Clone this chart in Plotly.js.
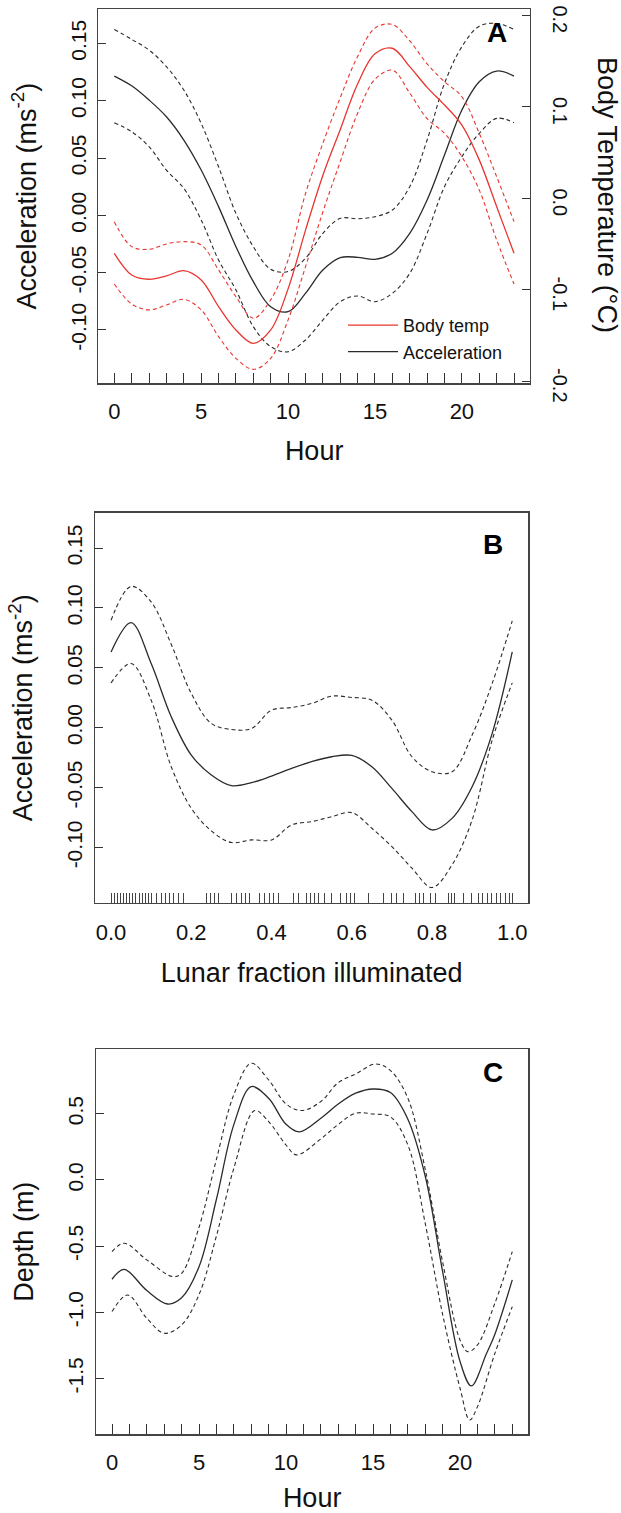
<!DOCTYPE html>
<html>
<head>
<meta charset="utf-8">
<script src="https://cdn.plot.ly/plotly-3.0.1.min.js"></script>
<style>
  html, body { margin: 0; padding: 0; background: #fff; }
  #chart { width: 621px; height: 1513px; }
</style>
</head>
<body>
<div id="chart"></div>
<script>
// ---------- Panel A : diel pattern (hour of day) ----------
const hoursA = [0,1,2,3,4,5,6,7,8,9,10,11,12,13,14,15,16,17,18,19,20,21,22,23];
const accMeanA  = [0.1215,0.113,0.1006,0.086,0.0657,0.0395,0.0076,-0.0273,-0.0578,-0.0797,-0.084,-0.068,-0.0477,-0.0369,-0.0366,-0.0384,-0.033,-0.0157,0.0134,0.0526,0.0919,0.1166,0.1259,0.1215];
const accUpperA = [0.1622,0.1535,0.1442,0.1297,0.1093,0.0802,0.0424,0.0017,-0.0273,-0.0471,-0.049,-0.0375,-0.0157,-0.0026,-0.003,-0.0012,0.0047,0.025,0.0657,0.1151,0.1471,0.165,0.1674,0.1622];
const accLowerA = [0.0808,0.073,0.0599,0.0395,0.0235,-0.004,-0.039,-0.0651,-0.0971,-0.1145,-0.119,-0.1087,-0.0913,-0.0753,-0.0703,-0.0753,-0.068,-0.0506,-0.0157,0.025,0.0512,0.0715,0.0846,0.0808];
const tempMeanA  = [-0.0601,-0.0838,-0.0885,-0.0849,-0.0791,-0.0893,-0.1184,-0.1439,-0.1585,-0.1439,-0.099,-0.035,0.025,0.075,0.125,0.158,0.164,0.1439,0.1213,0.102,0.080,0.042,-0.009,-0.0601];
const tempUpperA = [-0.0255,-0.0528,-0.0557,-0.0499,-0.0474,-0.051,-0.0783,-0.1075,-0.1311,-0.111,-0.0674,0.005,0.06,0.11,0.155,0.186,0.190,0.172,0.147,0.1275,0.111,0.071,0.0237,-0.0255];
const tempLowerA = [-0.0936,-0.1155,-0.122,-0.1166,-0.1104,-0.122,-0.1512,-0.1749,-0.187,-0.1749,-0.133,-0.075,-0.015,0.04,0.093,0.13,0.14,0.115,0.087,0.071,0.0455,0.0091,-0.0455,-0.0936];

// ---------- Panel B : lunar fraction illuminated ----------
const lunarFrac = [0,0.05,0.1,0.15,0.2,0.25,0.3,0.35,0.4,0.45,0.5,0.55,0.6,0.65,0.7,0.75,0.8,0.85,0.9,0.95,1.0];
const accMeanB  = [0.0633,0.0878,0.0536,0.0092,-0.0228,-0.0394,-0.0483,-0.0458,-0.0403,-0.0339,-0.0283,-0.0242,-0.0231,-0.0325,-0.0506,-0.07,-0.0853,-0.0756,-0.0492,-0.0047,0.0633];
const accUpperB = [0.0897,0.118,0.105,0.0697,0.0286,0.0036,-0.0014,-0.0006,0.0147,0.0169,0.0203,0.0264,0.0253,0.023,0.0064,-0.0242,-0.0367,-0.0367,-0.0061,0.037,0.0892];
const accLowerB = [0.0375,0.0536,0.023,-0.0325,-0.0672,-0.0861,-0.0958,-0.0936,-0.0936,-0.0811,-0.0783,-0.0742,-0.0708,-0.0839,-0.0992,-0.1172,-0.1333,-0.1144,-0.0769,-0.0103,0.0375];
const lunarRug = [0.0,0.008,0.015,0.023,0.031,0.039,0.047,0.054,0.062,0.07,0.078,0.086,0.093,
  0.101,0.114,0.126,0.136,0.145,0.155,0.168,0.18,0.238,0.248,0.257,0.267,0.30,0.313,0.326,0.336,0.346,
  0.371,0.382,0.394,0.405,0.417,0.454,0.467,0.488,0.498,0.508,0.517,0.533,0.55,0.571,0.587,0.597,0.608,
  0.641,0.679,0.70,0.712,0.729,0.758,0.768,0.778,0.795,0.808,0.841,0.849,0.857,0.878,0.899,
  0.916,0.927,0.938,0.949,0.96,0.971,0.982,0.993,1.0];

// ---------- Panel C : depth by hour ----------
const depthMeanHours  = [0,0.7,2,3.2,4,5,6,7,8,9,10,10.75,12,13,14,15,16,17,18,19,20,20.65,21.5,22,23];
const depthMeanC      = [-0.75,-0.675,-0.835,-0.937,-0.89,-0.655,-0.146,0.418,0.705,0.617,0.42,0.3625,0.466,0.574,0.655,0.687,0.66,0.459,0.028,-0.695,-1.372,-1.556,-1.317,-1.165,-0.755];
const depthUpperHours = [0,0.7,2,3.5,4,5,6,7,8,9,10,10.9,12,13,14,15.15,16,17,18,19,20,20.45,21,22,23];
const depthUpperC     = [-0.541,-0.478,-0.604,-0.73,-0.705,-0.357,0.156,0.644,0.881,0.755,0.574,0.524,0.592,0.735,0.80,0.876,0.826,0.617,0.078,-0.622,-1.21,-1.297,-1.246,-0.931,-0.541];
const depthLowerHours = [0,0.9,2,3,4,5,6,7,8.2,9,10,10.6,12,13,14,15,16,17,18,19,20,20.55,21,22,23];
const depthLowerC     = [-0.994,-0.869,-1.045,-1.158,-1.095,-0.866,-0.423,0.088,0.524,0.441,0.264,0.189,0.31,0.42,0.504,0.498,0.476,0.264,-0.33,-1.017,-1.574,-1.813,-1.712,-1.31,-0.957];

// ---------- tick labels ----------
const accTickVals = [-0.10,-0.05,0.00,0.05,0.10,0.15];
const accTickText = ['-0.10','-0.05','0.00','0.05','0.10','0.15'];
const tempTickVals = [-0.2,-0.1,0.0,0.1,0.2];
const tempTickText = ['-0.2','-0.1','0.0','0.1','0.2'];
const depthTickVals = [-1.5,-1.0,-0.5,0.0,0.5];
const depthTickText = ['-1.5','-1.0','-0.5','0.0','0.5'];
const lunarTickVals = [0.0,0.2,0.4,0.6,0.8,1.0];
const lunarTickText = ['0.0','0.2','0.4','0.6','0.8','1.0'];
const hourTickVals = [0,5,10,15,20];
const hourTickText = ['0','5','10','15','20'];

// ---------- styling ----------
const FONT = 'Liberation Sans, Arial, Helvetica, sans-serif';
const BLACK = '#2b2b2b';
const RED = '#e8352f';
const DASH = '4px,3px';
const BOX = '#444';

function line(x, y, color, dashed, xa, ya, name, show) {
  return {
    type: 'scatter', mode: 'lines', x: x, y: y, xaxis: xa, yaxis: ya,
    name: name || '', showlegend: !!show,
    line: { color: color, width: dashed ? 1.1 : 1.3, dash: dashed ? DASH : 'solid', shape: 'spline', smoothing: 1 },
    hoverinfo: 'skip'
  };
}

const traces = [
  line(hoursA, accUpperA, BLACK, true, 'x', 'y'),
  line(hoursA, accLowerA, BLACK, true, 'x', 'y'),
  line(hoursA, tempUpperA, RED, true, 'x', 'y2'),
  line(hoursA, tempLowerA, RED, true, 'x', 'y2'),
  Object.assign(line(hoursA, tempMeanA, RED, false, 'x', 'y2', 'Body temp', true), {legendrank: 1}),
  Object.assign(line(hoursA, accMeanA, BLACK, false, 'x', 'y', 'Acceleration', true), {legendrank: 2}),

  line(lunarFrac, accUpperB, BLACK, true, 'x2', 'y3'),
  line(lunarFrac, accLowerB, BLACK, true, 'x2', 'y3'),
  line(lunarFrac, accMeanB, BLACK, false, 'x2', 'y3'),
  // carrier for the rug axis of panel B (no visible marks)
  { type: 'scatter', mode: 'markers', x: lunarRug, y: lunarRug.map(() => null), xaxis: 'x4', yaxis: 'y3',
    showlegend: false, hoverinfo: 'skip', marker: { size: 0, opacity: 0 } },

  line(depthUpperHours, depthUpperC, BLACK, true, 'x3', 'y4'),
  line(depthLowerHours, depthLowerC, BLACK, true, 'x3', 'y4'),
  line(depthMeanHours, depthMeanC, BLACK, false, 'x3', 'y4')
];

const xTickFont = { family: FONT, size: 22, color: '#111' };
const yTickFont = { family: FONT, size: 21, color: '#111' };
const titleFont = { family: FONT, size: 27, color: '#111' };

function xAxis(domain, range, anchor, extra) {
  return Object.assign({
    domain: domain, range: range, anchor: anchor,
    showline: true, mirror: true, linecolor: BOX, linewidth: 1.3,
    showgrid: false, zeroline: false,
    ticks: 'inside', ticklen: 10, tickwidth: 1, tickcolor: '#333',
    tickfont: xTickFont, ticklabelstandoff: 8, ticklabeloverflow: 'allow'
  }, extra);
}
function yAxis(domain, range, anchor, vals, text, extra) {
  return Object.assign({
    domain: domain, range: range, anchor: anchor,
    showline: true, mirror: true, linecolor: BOX, linewidth: 1.3,
    showgrid: false, zeroline: false,
    tickmode: 'array', tickvals: vals, ticktext: text, tickangle: -90,
    ticks: 'inside', ticklen: 8, tickwidth: 1, tickcolor: '#333',
    tickfont: yTickFont, ticklabelstandoff: 3, ticklabeloverflow: 'allow'
  }, extra);
}
const hourMinor = { tick0: 0, dtick: 1, ticks: 'inside', ticklen: 10, tickwidth: 1, tickcolor: '#333', showgrid: false };

const layout = {
  width: 621, height: 1513,
  margin: { l: 0, r: 0, t: 0, b: 0 },
  paper_bgcolor: '#fff', plot_bgcolor: '#fff',
  font: { family: FONT, color: '#111' },
  showlegend: true,
  legend: {
    x: 343 / 621, y: 1 - 307 / 1513, xanchor: 'left', yanchor: 'top',
    bgcolor: 'rgba(0,0,0,0)', borderwidth: 0,
    font: { family: FONT, size: 18, color: '#111' },
    itemwidth: 50, tracegroupgap: 0
  },
  // Panel A
  xaxis: xAxis([98.3/621, 530/621], [-0.92, 23.92], 'y', {
    tickmode: 'array', tickvals: hourTickVals, ticktext: hourTickText, minor: hourMinor,
    title: { text: 'Hour', font: titleFont, standoff: 18 }
  }),
  yaxis: yAxis([1 - 383.3/1513, 1 - 9/1513], [-0.1465, 0.18], 'x', accTickVals, accTickText, {
    title: { text: 'Acceleration (ms<sup>-2</sup>)', font: titleFont, standoff: 22 }
  }),
  yaxis2: yAxis([1 - 383.3/1513, 1 - 9/1513], [-0.2022, 0.2069], 'x', tempTickVals, tempTickText, {
    overlaying: 'y', side: 'right', tickangle: 90, showline: false, mirror: false,
    ticklabelstandoff: 18, ticklabelshift: 7, tickfont: { family: FONT, size: 20, color: '#111' }
  }),
  // Panel B
  xaxis2: xAxis([95/621, 528.3/621], [-0.04, 1.04], 'y3', {
    tickmode: 'array', tickvals: lunarTickVals, ticktext: lunarTickText, ticks: '',
    ticklabelstandoff: 10,
    title: { text: 'Lunar fraction illuminated', font: titleFont, standoff: 18 }
  }),
  xaxis4: {
    overlaying: 'x2', anchor: 'y3', range: [-0.04, 1.04],
    showline: false, showgrid: false, zeroline: false, showticklabels: false,
    tickmode: 'array', tickvals: lunarRug,
    ticks: 'inside', ticklen: 10, tickwidth: 1, tickcolor: '#444'
  },
  yaxis3: yAxis([1 - 902.7/1513, 1 - 512.7/1513], [-0.146, 0.1795], 'x2', accTickVals, accTickText, {
    title: { text: 'Acceleration (ms<sup>-2</sup>)', font: titleFont, standoff: 22 }
  }),
  // Panel C
  xaxis3: xAxis([96/621, 528.3/621], [-0.92, 23.92], 'y4', {
    tickmode: 'array', tickvals: hourTickVals, ticktext: hourTickText, minor: hourMinor,
    title: { text: 'Hour', font: titleFont, standoff: 18 }
  }),
  yaxis4: yAxis([1 - 1434.3/1513, 1 - 1049/1513], [-1.921, 0.989], 'x3', depthTickVals, depthTickText, {
    title: { text: 'Depth (m)', font: titleFont, standoff: 22 }
  }),
  annotations: [
    { text: '<b>A</b>', xref: 'paper', yref: 'paper', x: 497/621, y: 1 - 33/1513, xanchor: 'center', yanchor: 'middle', showarrow: false, font: { family: FONT, size: 28, color: '#000' } },
    { text: '<b>B</b>', xref: 'paper', yref: 'paper', x: 493/621, y: 1 - 544/1513, xanchor: 'center', yanchor: 'middle', showarrow: false, font: { family: FONT, size: 28, color: '#000' } },
    { text: '<b>C</b>', xref: 'paper', yref: 'paper', x: 492.5/621, y: 1 - 1072/1513, xanchor: 'center', yanchor: 'middle', showarrow: false, font: { family: FONT, size: 28, color: '#000' } },
    { text: 'Body Temperature (°C)', xref: 'paper', yref: 'paper', x: 607/621, y: 1 - 195/1513, xanchor: 'center', yanchor: 'middle', textangle: 90, showarrow: false, font: titleFont }
  ]
};

Plotly.newPlot('chart', traces, layout, { staticPlot: true, displayModeBar: false });
</script>
</body>
</html>
